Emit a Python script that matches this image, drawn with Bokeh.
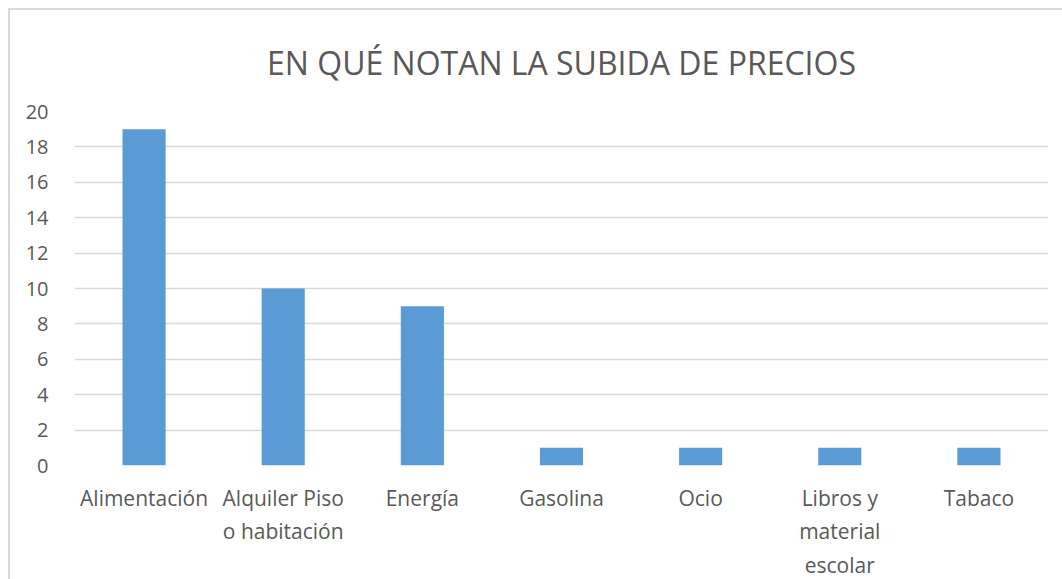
from bokeh.plotting import figure
from bokeh.models import FactorRange, Range1d, FixedTicker, InlineStyleSheet
from bokeh.embed import file_html
from bokeh.resources import INLINE

title_text = "EN QUÉ NOTAN LA SUBIDA DE PRECIOS"
categories = ["Alimentación", "Alquiler Piso\no habitación", "Energía", "Gasolina",
              "Ocio", "Libros y\nmaterial\nescolar", "Tabaco"]
values = [19, 10, 9, 1, 1, 1, 1]
y_ticks = [0, 2, 4, 6, 8, 10, 12, 14, 16, 18, 20]

FONT = "Open Sans"
TXT = "#595959"

p = figure(x_range=FactorRange(*categories), y_range=Range1d(0, 20),
           width=1054, height=571, output_backend="svg", toolbar_location=None,
           min_border_left=64, min_border_right=16, min_border_top=101, min_border_bottom=10)
p.vbar(x=categories, top=values, width=0.31, color="#5B9BD5", line_color=None)

p.title.text = title_text
p.title.align = "center"
p.title.vertical_align = "top"
p.title.text_font = FONT
p.title.text_font_size = "32px"
p.title.text_font_style = "normal"
p.title.text_color = TXT
p.title.standoff = 51

p.outline_line_color = None
p.xgrid.grid_line_color = None
p.ygrid.grid_line_color = "#d9d9d9"
p.ygrid.grid_line_width = 1.5
p.yaxis.ticker = FixedTicker(ticks=y_ticks)

for ax in (p.xaxis, p.yaxis):
    ax.axis_line_color = None
    ax.major_tick_line_color = None
    ax.minor_tick_line_color = None
    ax.major_label_text_font = FONT
    ax.major_label_text_color = TXT
p.xaxis.major_label_text_font_size = "21px"
p.yaxis.major_label_text_font_size = "20px"
p.xaxis.major_label_standoff = 12
p.yaxis.major_label_standoff = 20
p.x_range.range_padding = 0
p.stylesheets = [InlineStyleSheet(css=":host { border-left: 2px solid #d9d9d9; border-top: 2px solid #d9d9d9; box-sizing: border-box; margin-left: 8px; margin-top: 8px; }")]

open("out.html", "w").write(file_html(p, INLINE))
